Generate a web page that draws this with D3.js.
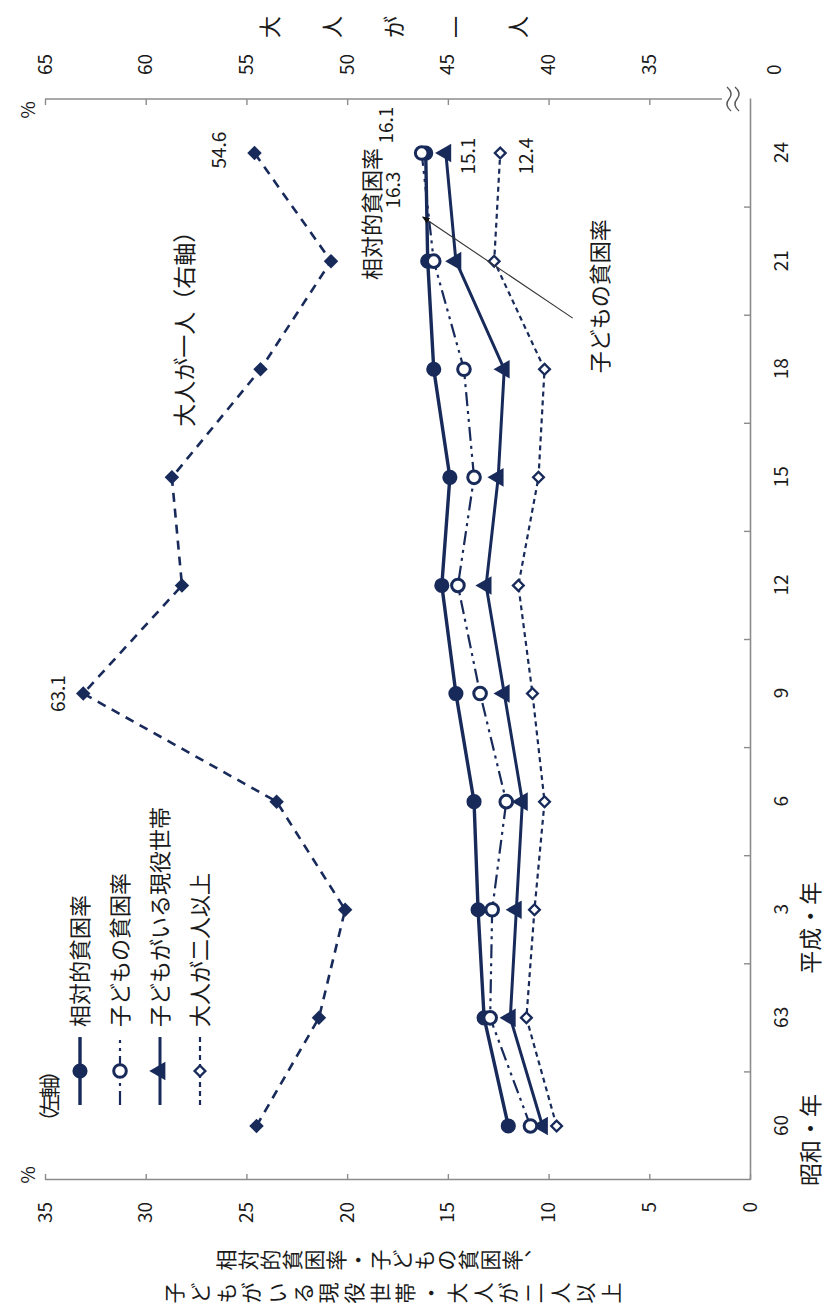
<!DOCTYPE html>
<html>
<head>
<meta charset="utf-8">
<script src="https://cdn.jsdelivr.net/npm/d3@7"></script>
<style>
  body { margin: 0; background: #fff; }
  svg { display: block; }
</style>
</head>
<body>
<svg id="chart" width="831" height="1313"></svg>
<script>
// Survey years (昭和60年 … 平成24年)
const years = ["60", "63", "3", "6", "9", "12", "15", "18", "21", "24"];

// Poverty rates, % (left axis)
const relativePoverty   = [12.0, 13.2, 13.5, 13.7, 14.6, 15.3, 14.9, 15.7, 16.0, 16.1];
const childPoverty      = [10.9, 12.9, 12.8, 12.1, 13.4, 14.5, 13.7, 14.2, 15.7, 16.3];
const workingHouseholds = [10.3, 11.9, 11.6, 11.3, 12.2, 13.1, 12.5, 12.2, 14.6, 15.1];
const twoOrMoreAdults   = [9.6, 11.1, 10.7, 10.2, 10.8, 11.5, 10.5, 10.2, 12.7, 12.4];
// One-adult households, % (right axis)
const singleAdult       = [54.5, 51.4, 50.1, 53.5, 63.1, 58.2, 58.7, 54.3, 50.8, 54.6];

const seriesNames = ["相対的貧困率", "子どもの貧困率", "子どもがいる現役世帯", "大人が二人以上", "大人が一人"];
const seriesValues = [relativePoverty, childPoverty, workingHouseholds, twoOrMoreAdults, singleAdult];

const leftTicks  = [0, 5, 10, 15, 20, 25, 30, 35];
const rightTicks = [35, 40, 45, 50, 55, 60, 65];

const leftTitle  = ["相対的貧困率・子どもの貧困率、", "子どもがいる現役世帯・大人が二人以上"];
const rightTitle = "大人が一人";

// ---- layout -------------------------------------------------------------
// The chart is laid out landscape (W x H) and turned a quarter turn
// counter-clockwise onto the portrait page.
const W = 1313, H = 831;
const plot = { left: 133, right: 1214, top: 45, bottom: 750 };
const navy = "#172a5a";
const ink = "#1a1a1a";
const axisGray = "#8c8c8c";
const jp = "'Noto Sans CJK JP', 'Noto Sans', sans-serif";

const svg = d3.select("#chart");
const g = svg.append("g").attr("transform", `translate(0,${W}) rotate(-90)`);

const x = d3.scalePoint().domain(years).range([plot.left, plot.right]).padding(0.5);
const xBand = d3.scaleBand().domain(years).range([plot.left, plot.right]);
const yL = d3.scaleLinear().domain([0, 35]).range([plot.bottom, plot.top]);
const yR = d3.scaleLinear().domain([35, 65]).range([yL(5), yL(35)]);

// Top-to-bottom (tategaki) text: one glyph per tspan, stacked down a column.
function verticalText(str, cx, cy, size, step) {
  const chars = Array.from(str).map(c => (c === "、" ? "︑" : c));
  const top = cy - (chars.length - 1) * step / 2;
  const t = g.append("text")
    .attr("fill", ink)
    .attr("text-anchor", "middle")
    .style("font-family", jp).style("font-size", size + "px");
  t.selectAll("tspan")
    .data(chars)
    .join("tspan")
    .attr("x", cx)
    .attr("y", (c, i) => top + i * step)
    .attr("dy", "0.36em")
    .text(c => c);
  return t;
}

// ---- axes ---------------------------------------------------------------
function styleAxis(sel) {
  sel.selectAll("path.domain").attr("stroke", axisGray).attr("stroke-width", 1.6);
  sel.selectAll(".tick line").attr("stroke", axisGray).attr("stroke-width", 1.4);
  sel.selectAll(".tick text").attr("fill", ink).style("font-family", jp).style("font-size", "19px");
}

// left value axis
const axL = g.append("g")
  .attr("transform", `translate(${plot.left},0)`)
  .call(d3.axisLeft(yL).tickValues(leftTicks).tickSize(-6).tickSizeOuter(0).tickPadding(22));
styleAxis(axL);

// right value axis (broken between 0 and 35)
const axR = g.append("g")
  .attr("transform", `translate(${plot.right},0)`)
  .call(d3.axisRight(yR).tickValues(rightTicks).tickSize(-6).tickSizeOuter(0).tickPadding(24));
styleAxis(axR);
axR.select("path.domain").remove();
axR.append("line")
  .attr("x1", 0).attr("x2", 0)
  .attr("y1", yR(65)).attr("y2", yL(0) - 28)
  .attr("stroke", axisGray).attr("stroke-width", 1.6);
// break mark
const breakY = yL(0) - 17;
[-4, 4].forEach(off => {
  axR.append("path")
    .attr("d", `M-12,${breakY + off + 2} Q-6,${breakY + off - 5} 0,${breakY + off} T12,${breakY + off - 2}`)
    .attr("fill", "none").attr("stroke", "#555").attr("stroke-width", 1.4);
});
axR.append("text")
  .attr("x", 24).attr("y", yL(0) + 25).attr("dy", "0.32em")
  .attr("fill", ink).style("font-family", jp).style("font-size", "19px")
  .text("0");

// category axis
const axX = g.append("g")
  .attr("transform", `translate(0,${plot.bottom})`)
  .call(d3.axisBottom(x).tickSize(0).tickSizeOuter(0).tickPadding(25));
styleAxis(axX);
axX.selectAll(".boundary")
  .data(years.slice(1))
  .join("line")
  .attr("class", "boundary")
  .attr("x1", d => xBand(d)).attr("x2", d => xBand(d))
  .attr("y1", 0).attr("y2", -6)
  .attr("stroke", axisGray).attr("stroke-width", 1.4);

// era labels under the year ticks
g.append("text")
  .attr("x", x("60") - 14).attr("y", plot.bottom + 69)
  .attr("text-anchor", "middle").attr("fill", ink)
  .style("font-family", jp).style("font-size", "23px")
  .text("昭和・年");
g.append("text")
  .attr("x", x("3") - 18).attr("y", plot.bottom + 69)
  .attr("text-anchor", "middle").attr("fill", ink)
  .style("font-family", jp).style("font-size", "23px")
  .text("平成・年");

// unit marks
g.append("text").attr("x", plot.left + 5).attr("y", plot.top - 10)
  .attr("text-anchor", "middle").attr("fill", ink)
  .style("font-family", jp).style("font-size", "19px").text("%");
g.append("text").attr("x", plot.right - 11).attr("y", plot.top - 10)
  .attr("text-anchor", "middle").attr("fill", ink)
  .style("font-family", jp).style("font-size", "19px").text("%");

// axis titles, set vertically
verticalText(leftTitle[0], 53, 380, 21, 22);
verticalText(leftTitle[1], 20, 393, 21, 25.7);
verticalText(rightTitle, plot.right + 72, 394, 22, 62);

// ---- series -------------------------------------------------------------
const styles = [
  { width: 3.4, dash: null,               symbol: d3.symbolCircle,   size: 180, fill: navy,   stroke: 0,   rot: 0,  axis: yL },
  { width: 2.2, dash: "14,5,3,5,3,5",     symbol: d3.symbolCircle,   size: 125, fill: "#fff", stroke: 3,   rot: 0,  axis: yL },
  { width: 3,   dash: null,               symbol: d3.symbolTriangle, size: 150, fill: navy,   stroke: 0,   rot: 0,  axis: yL },
  { width: 2.2, dash: "5,4",              symbol: d3.symbolSquare,   size: 58,  fill: "#fff", stroke: 2.3, rot: 45, axis: yL },
  { width: 2.6, dash: "9,7",              symbol: d3.symbolSquare,   size: 105, fill: navy,   stroke: 0,   rot: 45, axis: yR }
];
const drawOrder = [4, 3, 2, 0, 1];

const lineGroup = g.append("g");
const markGroup = g.append("g");
drawOrder.forEach(k => {
  const st = styles[k];
  const vals = seriesValues[k];
  const line = d3.line().x((d, i) => x(years[i])).y(d => st.axis(d));
  lineGroup.append("path")
    .datum(vals)
    .attr("d", line)
    .attr("fill", "none")
    .attr("stroke", navy)
    .attr("stroke-width", st.width)
    .attr("stroke-dasharray", st.dash);
});
drawOrder.forEach(k => {
  const st = styles[k];
  const vals = seriesValues[k];
  markGroup.append("g").selectAll("path")
    .data(vals)
    .join("path")
    .attr("transform", (d, i) => `translate(${x(years[i])},${st.axis(d)}) rotate(${st.rot})`)
    .attr("d", d3.symbol().type(st.symbol).size(st.size))
    .attr("fill", st.fill)
    .attr("stroke", st.stroke ? navy : "none")
    .attr("stroke-width", st.stroke);
});

// ---- legend (left-axis series) -------------------------------------------
const legend = g.append("g");
legend.append("text")
  .attr("x", 181).attr("y", 57)
  .attr("fill", ink).style("font-family", jp).style("font-size", "21px")
  .style("letter-spacing", "-4px")
  .text("（左軸）");
[0, 1, 2, 3].forEach((k, i) => {
  const st = styles[k];
  const rowY = 80 + i * 40;
  legend.append("line")
    .attr("x1", 208).attr("x2", 276).attr("y1", rowY).attr("y2", rowY)
    .attr("stroke", navy).attr("stroke-width", st.width)
    .attr("stroke-dasharray", st.dash);
  legend.append("path")
    .attr("transform", `translate(242,${rowY}) rotate(${st.rot})`)
    .attr("d", d3.symbol().type(st.symbol).size(st.size))
    .attr("fill", st.fill)
    .attr("stroke", st.stroke ? navy : "none")
    .attr("stroke-width", st.stroke);
  legend.append("text")
    .attr("x", 286).attr("y", rowY + 8)
    .attr("fill", ink).style("font-family", jp).style("font-size", "22px")
    .text(seriesNames[k]);
});

// ---- annotations --------------------------------------------------------
const last = years.length - 1;
function note(txt, xx, yy, size, anchor) {
  return g.append("text")
    .attr("x", xx).attr("y", yy)
    .attr("text-anchor", anchor || "middle")
    .attr("fill", ink).style("font-family", jp).style("font-size", size + "px")
    .text(txt);
}
// one-adult series label and its end values
note("大人が一人（右軸）", x("18") + 46, yR(singleAdult[7]) - 68, 23);
note(String(singleAdult[last]), x("24") + 3, yR(singleAdult[last]) - 28, 19);
note(String(singleAdult[4]), x("9"), yR(singleAdult[4]) - 18, 19);

// 2012 values of the left-axis series
note("相対的貧困率", x("24") + 5, yL(relativePoverty[last]) - 46, 22, "end");
note(String(relativePoverty[last]), x("24") + 28, yL(relativePoverty[last]) - 33, 19);
note(String(childPoverty[last]), x("24") - 37, yL(childPoverty[last]) - 22, 19);
note(String(workingHouseholds[last]), x("24") - 3, yL(workingHouseholds[last]) + 29, 19);
note(String(twoOrMoreAdults[last]), x("24") - 3, yL(twoOrMoreAdults[last]) + 33, 19);

// leader for the child poverty line
g.append("defs").append("marker")
  .attr("id", "arrow").attr("viewBox", "0 0 10 10")
  .attr("refX", 9).attr("refY", 5)
  .attr("markerWidth", 7).attr("markerHeight", 7)
  .attr("orient", "auto-start-reverse")
  .append("path").attr("d", "M0,1 L10,5 L0,9 Z").attr("fill", "#111");
const tipX = x("24") - 64;
const tipY = yL(childPoverty[last]) + 1;
g.append("line")
  .attr("x1", x("21") - 57).attr("y1", yL(childPoverty[8]) + 139)
  .attr("x2", tipX).attr("y2", tipY)
  .attr("stroke", "#333").attr("stroke-width", 1.1)
  .attr("marker-end", "url(#arrow)");
note("子どもの貧困率", x("21") - 112, yL(childPoverty[8]) + 174, 22, "start");
</script>
</body>
</html>
